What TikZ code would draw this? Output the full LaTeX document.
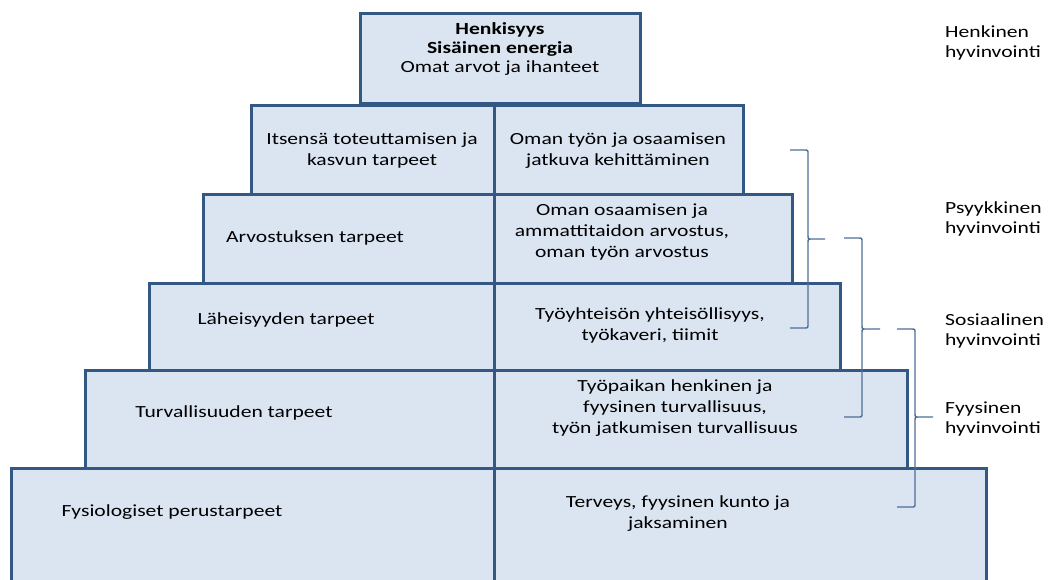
\documentclass[tikz,border=0pt]{standalone}
\usepackage{fontspec}
\setmainfont{Carlito}[FakeStretch=1.27]
\definecolor{boxfill}{RGB}{219,229,241}
\definecolor{boxline}{RGB}{52,88,132}
\definecolor{braceline}{RGB}{78,110,152}
\newcommand{\drawbracket}[6]{%
  \draw[bracestyle] (#1,#4) -- ({#2-4},#4) .. controls (#2,#4) .. (#2,{#4+4})
    -- (#2,{#5-4}) .. controls (#2,#5) .. ({#2+4},#5) -- (#3,#5)
    (#3,#5) -- ({#2+4},#5) .. controls (#2,#5) .. (#2,{#5+4})
    -- (#2,{#6-4}) .. controls (#2,#6) .. ({#2-4},#6) -- (#1,#6);}
\begin{document}
\begin{tikzpicture}[x=1pt,y=-1pt,
  font=\fontsize{17}{21}\selectfont,
  box/.style={draw=boxline,fill=boxfill,line width=3pt,inner sep=0pt,rectangle},
  txt/.style={align=center,inner sep=0pt,text=black},
  lab/.style={align=left,inner sep=0pt,anchor=west,text=black,font=\fontsize{17}{19.5}\selectfont},
  bracestyle/.style={draw=braceline,line width=1.4pt}]
\clip (0,0) rectangle (1054,579);
% boxes, top to bottom
\node[box,minimum width=280pt,minimum height=90pt] (top) at (500,58) {};
\node[box,minimum width=243pt,minimum height=89pt] (r1l) at (372.5,149.5) {};
\node[box,minimum width=249pt,minimum height=89pt] (r1r) at (618.5,149.5) {};
\node[box,minimum width=291pt,minimum height=89pt] (r2l) at (348.5,238.5) {};
\node[box,minimum width=298pt,minimum height=89pt] (r2r) at (643,238.5) {};
\node[box,minimum width=345pt,minimum height=87pt] (r3l) at (321.5,326.5) {};
\node[box,minimum width=346pt,minimum height=87pt] (r3r) at (667,326.5) {};
\node[box,minimum width=409pt,minimum height=98pt] (r4l) at (289.5,419) {};
\node[box,minimum width=413pt,minimum height=98pt] (r4r) at (700.5,419) {};
\node[box,minimum width=483pt,minimum height=132pt] (r5l) at (252.5,534) {};
\node[box,minimum width=492pt,minimum height=132pt] (r5r) at (740,534) {};
% texts
\node[txt,font=\fontsize{17}{19}\selectfont] (ttop) at (500,49) {\textbf{Henkisyys}\\\textbf{Sisäinen energia}\\Omat arvot ja ihanteet};
\node[txt] (t1l) at (372,151) {Itsensä toteuttamisen ja\\kasvun tarpeet};
\node[txt] (t1r) at (618,151) {Oman työn ja osaamisen\\jatkuva kehittäminen};
\node[txt] (t2l) at (315,238) {Arvostuksen tarpeet};
\node[txt] (t2r) at (622,232) {Oman osaamisen ja\\ammattitaidon arvostus,\\oman työn arvostus};
\node[txt] (t3l) at (286,320) {Läheisyyden tarpeet};
\node[txt] (t3r) at (650,325) {Työyhteisön yhteisöllisyys,\\työkaveri, tiimit};
\node[txt] (t4l) at (234,413) {Turvallisuuden tarpeet};
\node[txt] (t4r) at (675,408) {Työpaikan henkinen ja\\fyysinen turvallisuus,\\työn jatkumisen turvallisuus};
\node[txt] (t5l) at (172,512) {Fysiologiset perustarpeet};
\node[txt] (t5r) at (678,514) {Terveys, fyysinen kunto ja\\jaksaminen};
% right labels
\node[lab] (lhenk) at (945,43) {Henkinen\\hyvinvointi};
\node[lab] (lpsyy) at (945,219) {Psyykkinen\\hyvinvointi};
\node[lab] (lsos) at (945,331) {Sosiaalinen\\hyvinvointi};
\node[lab] (lfyys) at (945,419) {Fyysinen\\hyvinvointi};
% braces
\drawbracket{790}{808}{825}{150}{239}{328}
\drawbracket{844}{862}{880}{238}{329}{417}
\drawbracket{897}{915}{933}{329}{417}{507}
\end{tikzpicture}
\end{document}
